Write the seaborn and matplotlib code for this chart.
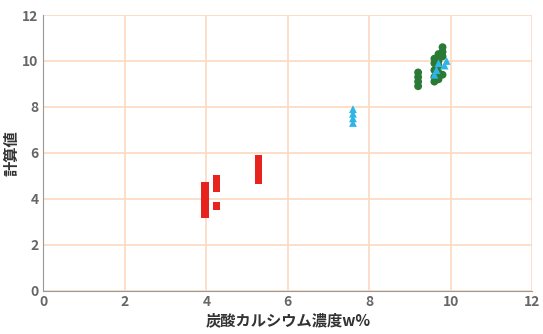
import pandas as pd
import seaborn as sns
import matplotlib.pyplot as plt

red_x = [3.97, 3.97, 3.97, 3.97, 3.97, 3.97, 3.97, 4.25, 4.25, 4.25, 4.25, 5.28, 5.28, 5.28, 5.28, 5.28, 5.28]
red_y = [3.35, 3.55, 3.75, 3.95, 4.15, 4.35, 4.55, 4.45, 4.65, 4.85, 3.7, 4.8, 5.0, 5.2, 5.4, 5.6, 5.75]

cyan_x = [7.6, 7.6, 7.6, 7.6, 9.65, 9.7, 9.85, 9.9, 9.6]
cyan_y = [7.3, 7.5, 7.7, 7.9, 9.6, 9.9, 9.8, 10.0, 9.4]

green_x = [9.2, 9.2, 9.2, 9.2, 9.6, 9.6, 9.6, 9.6, 9.6, 9.7, 9.7, 9.7, 9.7, 9.7, 9.8, 9.8, 9.8, 9.8]
green_y = [8.9, 9.1, 9.3, 9.5, 9.1, 9.3, 9.6, 9.9, 10.1, 9.2, 9.5, 9.8, 10.0, 10.3, 9.4, 10.2, 10.4, 10.6]

df = pd.concat([
    pd.DataFrame({'x': red_x, 'y': red_y, 'grp': 'red'}),
    pd.DataFrame({'x': green_x, 'y': green_y, 'grp': 'green'}),
    pd.DataFrame({'x': cyan_x, 'y': cyan_y, 'grp': 'cyan'}),
])

sns.set_style('white')
plt.rcParams['font.family'] = ['Noto Sans CJK JP', 'DejaVu Sans']

fig, ax = plt.subplots(figsize=(5.43, 3.34), dpi=100)
fig.subplots_adjust(left=0.08, right=0.98, top=0.955, bottom=0.13)

palette = {'red': '#e8231e', 'green': '#2a7a35', 'cyan': '#2fb4e8'}
markers = {'red': 's', 'green': 'o', 'cyan': '^'}
sns.scatterplot(data=df, x='x', y='y', hue='grp', style='grp', palette=palette,
                markers=markers, s=32, linewidth=0, legend=False, ax=ax)

ax.set_xlim(0, 12)
ax.set_ylim(0, 12)
ax.set_xticks(range(0, 13, 2))
ax.set_yticks(range(0, 13, 2))
ax.grid(True, color='#fcd9c0', linewidth=1.2)
ax.set_axisbelow(True)
for s in ['top', 'right']:
    ax.spines[s].set_visible(False)
for s in ['left', 'bottom']:
    ax.spines[s].set_color('#999999')
ax.tick_params(colors='#666666', labelsize=10, length=0)
for lbl in ax.get_xticklabels() + ax.get_yticklabels():
    lbl.set_fontweight('bold')
ax.set_xlabel('炭酸カルシウム濃度w%', fontsize=11, fontweight='bold', color='#333333', labelpad=2)
ax.set_ylabel('計算値', fontsize=11, fontweight='bold', color='#333333', labelpad=2)

plt.savefig('out.png', dpi=100)
